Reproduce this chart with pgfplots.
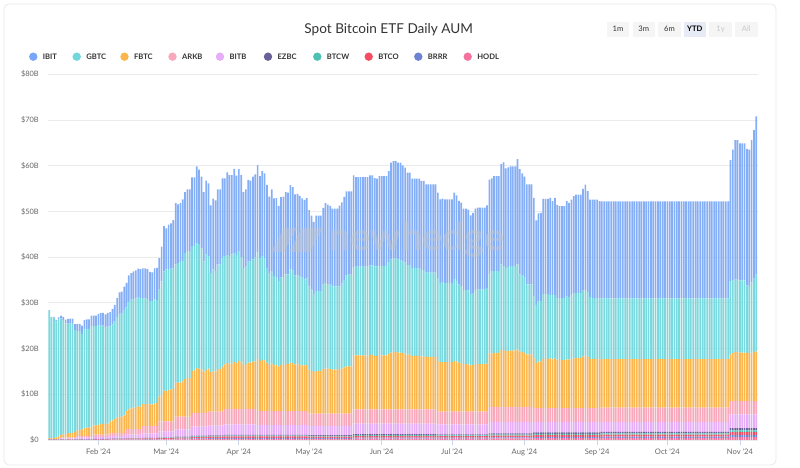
\documentclass[border=0pt]{standalone}
\usepackage{fontspec}
\setmainfont{Lato}
\usepackage{pgfplots}
\pgfplotsset{compat=1.18}
\usepackage{pgfplotstable}
\definecolor{cIBIT}{HTML}{84AEF5}
\definecolor{cGBTC}{HTML}{7AD9DE}
\definecolor{cFBTC}{HTML}{FBB64E}
\definecolor{cARKB}{HTML}{F8A8BA}
\definecolor{cBITB}{HTML}{E6AEF7}
\definecolor{cEZBC}{HTML}{6B6199}
\definecolor{cBTCW}{HTML}{4DC2B2}
\definecolor{cBTCO}{HTML}{F44D62}
\definecolor{cBRRR}{HTML}{6E82D4}
\definecolor{cHODL}{HTML}{F4739E}
\definecolor{dIBIT}{HTML}{78A6F8}
\definecolor{dGBTC}{HTML}{72D6DC}
\definecolor{gridc}{HTML}{EBEBEB}
\definecolor{tickc}{HTML}{CCD6EB}
\definecolor{labc}{HTML}{666666}
\definecolor{titc}{HTML}{333333}
\definecolor{cardc}{HTML}{E8E8E8}
\definecolor{btnc}{HTML}{F5F5F5}
\definecolor{btnsel}{HTML}{E6EBF5}
\definecolor{btndis}{HTML}{C8C8C8}
\definecolor{wmark}{HTML}{C2C5CB}

\pgfplotstableread{
d I G F A B E W O R H
10 0.1 27.9 0.2 0.05 0.1 .01 .01 .02 .01 .01
11 0.2 26.3 0.25 0.05 0.1 .01 .01 .02 .01 .01
12 0.2 26.3 0.25 0.05 0.1 .01 .01 .02 .01 .01
13 0.3 25.4 0.35 0.05 0.1 .01 .01 .02 .01 .01
14 0.4 25.7 0.5 0.05 0.1 .01 .01 .02 .01 .01
15 0.6 25.5 0.6 .2 .2 .02 .02 .04 .03 .02
16 0.7 25.0 0.7 .2 .2 .02 .02 .04 .03 .02
17 0.8 24.2 0.8 .2 .2 .02 .02 .04 .03 .02
18 1.0 24.0 0.95 .2 .2 .02 .02 .04 .03 .02
19 1.1 23.9 1.0 .2 .2 .02 .02 .04 .03 .02
20 1.1 23.9 1.0 .2 .2 .02 .02 .04 .03 .02
21 1.3 22.3 1.2 .2 .2 .02 .02 .04 .03 .02
22 1.6 21.7 1.2 .4 .3 .03 .03 .06 .04 .04
23 1.6 21.6 1.3 .4 .3 .03 .03 .06 .04 .04
24 1.8 20.9 1.4 .4 .3 .03 .03 .06 .04 .04
25 2.0 21.6 1.7 .4 .3 .03 .03 .06 .04 .04
26 2.1 21.6 1.8 .4 .3 .03 .03 .06 .04 .04
27 2.1 21.6 1.8 .4 .3 .03 .03 .06 .04 .04
28 2.3 22.1 1.9 .4 .3 .03 .03 .06 .04 .04
29 2.3 21.7 2.0 .55 .4 .04 .03 .08 .05 .05
30 2.3 21.7 2.0 .55 .4 .04 .03 .08 .05 .05
31 2.6 21.7 2.1 .55 .4 .04 .03 .08 .05 .05
32 2.8 21.5 2.3 .55 .4 .04 .03 .08 .05 .05
33 2.8 21.5 2.3 .55 .4 .04 .03 .08 .05 .05
34 2.9 21.1 2.3 .55 .4 .04 .03 .08 .05 .05
35 3.0 21.2 2.4 .55 .4 .04 .03 .08 .05 .05
36 3.1 20.8 2.5 .7 .55 .05 .04 .1 .07 .06
37 3.4 21.0 2.7 .7 .55 .05 .04 .1 .07 .06
38 3.7 21.3 3.0 .7 .55 .05 .04 .1 .07 .06
39 4.2 22.0 3.3 .7 .55 .05 .04 .1 .07 .06
40 4.7 22.5 3.5 .7 .55 .05 .04 .1 .07 .06
41 4.7 22.6 3.6 .7 .55 .05 .04 .1 .07 .06
42 5.1 23.1 3.8 .7 .55 .05 .04 .1 .07 .06
43 5.4 22.7 3.9 1.2 .8 .06 .05 .12 .08 .08
44 5.8 23.5 4.3 1.2 .8 .06 .05 .12 .08 .08
45 5.8 23.8 4.5 1.2 .8 .06 .05 .12 .08 .08
46 6.0 23.8 4.7 1.2 .8 .06 .05 .12 .08 .08
47 6.1 23.8 4.8 1.2 .8 .06 .05 .12 .08 .08
48 6.3 23.9 4.9 1.2 .8 .06 .05 .12 .08 .08
49 6.3 23.8 4.9 1.2 .8 .06 .05 .12 .08 .08
50 6.5 23.2 4.8 1.6 1 .07 .06 .14 .1 .1
51 6.6 23.1 4.8 1.6 1 .07 .06 .14 .1 .1
52 6.5 23.0 4.8 1.6 1 .07 .06 .14 .1 .1
53 6.4 22.6 4.7 1.6 1 .07 .06 .14 .1 .1
54 6.3 22.6 4.7 1.6 1 .07 .06 .14 .1 .1
55 6.8 22.8 4.9 1.6 1 .07 .06 .14 .1 .1
56 7.0 22.6 5.0 1.6 1 .07 .06 .14 .1 .1
57 6.9 23.4 5.4 2.2 1.3 .1 .08 .18 .12 .12
58 7.6 24.7 5.9 2.2 1.3 .1 .08 .18 .12 .12
59 9.9 26.1 6.7 2.2 1.3 .1 .08 .18 .12 .12
60 9.0 26.6 6.6 2.2 1.3 .1 .08 .18 .12 .12
61 9.7 26.5 6.8 2.2 1.3 .1 .08 .18 .12 .12
62 9.9 26.5 6.9 2.2 1.3 .1 .08 .18 .12 .12
63 10.5 26.4 7.1 2.2 1.3 .1 .08 .18 .12 .12
64 13.4 25.9 7.4 2.8 1.6 .12 .1 .22 .14 .15
65 12.8 26.2 7.4 2.8 1.6 .12 .1 .22 .14 .15
66 12.9 26.4 7.4 2.8 1.6 .12 .1 .22 .14 .15
67 13.5 26.3 7.7 2.8 1.6 .12 .1 .22 .14 .15
68 13.3 27.6 8.2 2.8 1.6 .12 .1 .22 .14 .15
69 13.5 27.8 8.4 2.8 1.6 .12 .1 .22 .14 .15
70 13.5 27.8 8.4 2.8 1.6 .12 .1 .22 .14 .15
71 15.0 27.3 9.2 3 2 .15 .12 .28 .18 .2
72 15.0 27.2 9.3 3 2 .15 .12 .28 .18 .2
73 16.7 27.4 9.8 3 2 .15 .12 .28 .18 .2
74 16.3 27.2 9.7 3 2 .15 .12 .28 .18 .2
75 15.6 26.6 9.5 3 2 .15 .12 .28 .18 .2
76 15.2 24.1 9.0 3 2 .15 .12 .28 .18 .2
77 16.1 25.3 9.4 3 2 .15 .12 .28 .18 .2
78 15.9 24.6 9.4 3.1 2.1 .17 .13 .3 .2 .22
79 14.8 21.7 8.6 3.1 2.1 .17 .13 .3 .2 .22
80 15.5 22.3 8.8 3.1 2.1 .17 .13 .3 .2 .22
81 15.5 21.9 8.8 3.1 2.1 .17 .13 .3 .2 .22
82 16.4 22.9 9.3 3.1 2.1 .17 .13 .3 .2 .22
83 16.4 22.9 9.3 3.1 2.1 .17 .13 .3 .2 .22
84 17.4 23.9 9.7 3.1 2.1 .17 .13 .3 .2 .22
85 17.0 23.7 9.7 3.4 2.3 .2 .15 .32 .22 .24
86 18.1 23.6 10.0 3.4 2.3 .2 .15 .32 .22 .24
87 17.7 23.5 9.9 3.4 2.3 .2 .15 .32 .22 .24
88 17.3 23.9 9.9 3.4 2.3 .2 .15 .32 .22 .24
89 18.4 23.9 10.2 3.4 2.3 .2 .15 .32 .22 .24
90 17.4 23.6 10.0 3.4 2.3 .2 .15 .32 .22 .24
91 17.9 24.0 10.5 3.4 2.3 .2 .15 .32 .22 .24
92 17.9 22.9 10.3 3.4 2.3 .2 .15 .32 .22 .24
93 16.6 21.2 9.6 3.4 2.3 .2 .15 .32 .22 .24
94 16.8 21.4 9.8 3.4 2.3 .2 .15 .32 .22 .24
95 17.9 22.1 10.1 3.4 2.3 .2 .15 .32 .22 .24
96 17.7 22.1 10.1 3.4 2.3 .2 .15 .32 .22 .24
97 18.1 22.4 10.3 3.4 2.3 .2 .15 .32 .22 .24
98 18.1 22.9 10.3 3.4 2.3 .2 .15 .32 .22 .24
99 19.0 23.4 11.4 3 2.2 .2 .15 .32 .22 .24
100 17.9 22.5 11.0 3 2.2 .2 .15 .32 .22 .24
101 18.6 22.7 11.2 3 2.2 .2 .15 .32 .22 .24
102 18.5 22.4 11.1 3 2.2 .2 .15 .32 .22 .24
103 18.2 20.7 10.6 3 2.2 .2 .15 .32 .22 .24
104 16.7 20.1 10.1 3 2.2 .2 .15 .32 .22 .24
105 17.9 20.2 10.4 3 2.2 .2 .15 .32 .22 .24
106 17.0 19.5 10.0 3 2.2 .2 .15 .32 .22 .24
107 17.3 19.2 10.1 3 2.2 .2 .15 .32 .22 .24
108 16.5 18.7 9.7 3 2.2 .2 .15 .32 .22 .24
109 17.6 19.1 10.1 3 2.2 .2 .15 .32 .22 .24
110 17.6 19.2 10.1 3 2.2 .2 .15 .32 .22 .24
111 18.0 19.6 10.3 3 2.2 .2 .15 .32 .22 .24
112 17.9 19.6 10.3 3 2.2 .2 .15 .32 .22 .24
113 18.4 20.4 10.6 3 2.2 .2 .15 .32 .22 .24
114 18.3 20.2 10.5 3 2.2 .2 .15 .32 .22 .24
115 17.7 19.5 10.2 3 2.2 .2 .15 .32 .22 .24
116 17.8 19.5 10.2 3 2.2 .2 .15 .32 .22 .24
117 17.6 19.4 10.1 3 2.2 .2 .15 .32 .22 .24
118 17.3 19.2 10.0 3 2.2 .2 .15 .32 .22 .24
119 17.4 18.8 10.0 3 2.2 .2 .15 .32 .22 .24
120 17.6 18.9 10.1 3 2.2 .2 .15 .32 .22 .24
121 16.7 18.2 9.6 2.7 2 .2 .15 .3 .2 .24
122 16.2 17.8 9.3 2.7 2 .2 .15 .3 .2 .24
123 15.9 16.9 9.1 2.7 2 .2 .15 .3 .2 .24
124 16.5 17.5 9.3 2.7 2 .2 .15 .3 .2 .24
125 16.5 17.5 9.3 2.7 2 .2 .15 .3 .2 .24
126 16.5 17.5 9.3 2.7 2 .2 .15 .3 .2 .24
127 16.8 18.5 9.7 2.7 2 .2 .15 .3 .2 .24
128 17.5 18.7 9.8 2.7 2 .2 .15 .3 .2 .24
129 17.5 18.4 9.8 2.7 2 .2 .15 .3 .2 .24
130 17.2 18.5 9.7 2.7 2 .2 .15 .3 .2 .24
131 17.0 18.2 9.6 2.7 2 .2 .15 .3 .2 .24
132 17.0 18.2 9.6 2.7 2 .2 .15 .3 .2 .24
133 17.0 18.2 9.6 2.7 2 .2 .15 .3 .2 .24
134 17.7 18.1 9.7 2.7 2 .2 .15 .3 .2 .24
135 17.8 18.5 9.9 2.7 2 .2 .15 .3 .2 .24
136 18.2 19.1 10.1 2.7 2 .2 .15 .3 .2 .24
137 18.4 19.9 10.3 2.7 2 .2 .15 .3 .2 .24
138 18.2 20.1 10.3 2.7 2 .2 .15 .3 .2 .24
139 18.2 20.1 10.3 2.7 2 .2 .15 .3 .2 .24
140 20.1 19.2 11.9 3.1 2.3 .24 .18 .34 .24 .3
141 19.6 19.4 11.8 3.1 2.3 .24 .18 .34 .24 .3
142 19.6 19.4 11.8 3.1 2.3 .24 .18 .34 .24 .3
143 19.6 19.4 11.8 3.1 2.3 .24 .18 .34 .24 .3
144 19.6 19.4 11.8 3.1 2.3 .24 .18 .34 .24 .3
145 19.6 19.4 11.8 3.1 2.3 .24 .18 .34 .24 .3
146 19.6 19.4 11.8 3.1 2.3 .24 .18 .34 .24 .3
147 19.7 19.6 11.9 3.1 2.3 .24 .18 .34 .24 .3
148 19.7 19.6 11.9 3.1 2.3 .24 .18 .34 .24 .3
149 19.3 19.6 11.7 3.1 2.3 .24 .18 .34 .24 .3
150 19.2 19.6 11.7 3.1 2.3 .24 .18 .34 .24 .3
151 19.6 19.6 11.8 3.1 2.3 .24 .18 .34 .24 .3
152 19.6 19.6 11.8 3.1 2.3 .24 .18 .34 .24 .3
153 19.6 19.6 11.8 3.1 2.3 .24 .18 .34 .24 .3
154 19.6 19.6 11.8 3.1 2.3 .24 .18 .34 .24 .3
155 20.0 20.0 12.1 3.1 2.3 .24 .18 .34 .24 .3
156 21.2 20.4 12.4 3.1 2.3 .24 .18 .34 .24 .3
157 21.3 20.5 12.5 3.1 2.3 .24 .18 .34 .24 .3
158 21.3 20.5 12.5 3.1 2.3 .24 .18 .34 .24 .3
159 21.2 20.4 12.4 3.1 2.3 .24 .18 .34 .24 .3
160 21.3 20.3 12.4 3.1 2.3 .24 .18 .34 .24 .3
161 21.1 20.0 12.3 3.1 2.3 .24 .18 .34 .24 .3
162 20.8 19.9 12.2 3.1 2.3 .24 .18 .34 .24 .3
163 20.2 19.6 12.0 3.1 2.3 .24 .18 .34 .24 .3
164 20.2 19.6 12.0 3.1 2.3 .24 .18 .34 .24 .3
165 19.6 19.2 11.7 3.1 2.3 .24 .18 .34 .24 .3
166 19.6 19.2 11.7 3.1 2.3 .24 .18 .34 .24 .3
167 19.6 19.2 11.7 3.1 2.3 .24 .18 .34 .24 .3
168 19.6 19.2 11.7 3.1 2.3 .24 .18 .34 .24 .3
169 19.5 18.9 11.6 3.1 2.3 .24 .18 .34 .24 .3
170 19.5 18.9 11.6 3.1 2.3 .24 .18 .34 .24 .3
171 19.3 18.4 11.5 3.1 2.3 .24 .18 .34 .24 .3
172 19.3 18.4 11.5 3.1 2.3 .24 .18 .34 .24 .3
173 19.3 18.4 11.5 3.1 2.3 .24 .18 .34 .24 .3
174 19.3 18.4 11.5 3.1 2.3 .24 .18 .34 .24 .3
175 19.3 18.4 11.5 3.1 2.3 .24 .18 .34 .24 .3
176 18.7 18.1 11.1 2.8 2.2 .22 .17 .32 .22 .28
177 18.3 17.3 10.8 2.8 2.2 .22 .17 .32 .22 .28
178 18.4 17.4 10.8 2.8 2.2 .22 .17 .32 .22 .28
179 18.3 17.3 10.8 2.8 2.2 .22 .17 .32 .22 .28
180 18.3 17.3 10.8 2.8 2.2 .22 .17 .32 .22 .28
181 18.3 17.3 10.8 2.8 2.2 .22 .17 .32 .22 .28
182 18.3 17.3 10.8 2.8 2.2 .22 .17 .32 .22 .28
183 18.9 17.9 11.1 2.8 2.2 .22 .17 .32 .22 .28
184 18.7 17.6 11.0 2.8 2.2 .22 .17 .32 .22 .28
185 18.3 17.1 10.7 2.8 2.2 .22 .17 .32 .22 .28
186 18.2 16.9 10.6 2.8 2.2 .22 .17 .32 .22 .28
187 17.8 16.2 10.4 2.8 2.2 .22 .17 .32 .22 .28
188 17.8 16.2 10.4 2.8 2.2 .22 .17 .32 .22 .28
189 17.7 16.2 10.3 2.8 2.2 .22 .17 .32 .22 .28
190 17.3 15.5 10.1 2.8 2.2 .22 .17 .32 .22 .28
191 17.5 15.8 10.2 2.8 2.2 .22 .17 .32 .22 .28
192 17.8 16.2 10.4 2.8 2.2 .22 .17 .32 .22 .28
193 17.9 16.3 10.4 2.8 2.2 .22 .17 .32 .22 .28
194 17.9 16.3 10.4 2.8 2.2 .22 .17 .32 .22 .28
195 17.9 16.3 10.4 2.8 2.2 .22 .17 .32 .22 .28
196 17.9 16.3 10.4 2.8 2.2 .22 .17 .32 .22 .28
197 18.1 16.5 10.5 2.8 2.2 .22 .17 .32 .22 .28
198 20.7 17.3 11.7 3.3 2.5 .26 .2 .38 .26 .34
199 20.3 18.0 11.7 3.3 2.5 .26 .2 .38 .26 .34
200 20.8 17.9 11.8 3.3 2.5 .26 .2 .38 .26 .34
201 20.8 17.9 11.8 3.3 2.5 .26 .2 .38 .26 .34
202 20.8 17.9 11.8 3.3 2.5 .26 .2 .38 .26 .34
203 21.9 18.8 12.4 3.3 2.5 .26 .2 .38 .26 .34
204 22.7 18.4 12.4 3.3 2.5 .26 .2 .38 .26 .34
205 21.8 18.2 12.2 3.3 2.5 .26 .2 .38 .26 .34
206 21.8 18.4 12.2 3.3 2.5 .26 .2 .38 .26 .34
207 21.8 18.5 12.3 3.3 2.5 .26 .2 .38 .26 .34
208 21.8 18.5 12.3 3.3 2.5 .26 .2 .38 .26 .34
209 21.8 18.5 12.3 3.3 2.5 .26 .2 .38 .26 .34
210 22.9 18.7 12.6 3.3 2.5 .26 .2 .38 .26 .34
211 23.0 16.9 12.1 3.3 2.5 .26 .2 .38 .26 .34
212 22.3 16.8 12.0 3.3 2.5 .26 .2 .38 .26 .34
213 22.1 16.5 11.8 3.3 2.5 .26 .2 .38 .26 .34
214 21.9 15.3 11.5 3.3 2.5 .26 .2 .38 .26 .34
215 21.9 15.3 11.5 3.3 2.5 .26 .2 .38 .26 .34
216 21.9 15.3 11.5 3.3 2.5 .26 .2 .38 .26 .34
217 21.6 13.5 10.9 3 2.3 .3 .24 .42 .3 .4
218 18.5 12.7 9.9 3 2.3 .3 .24 .42 .3 .4
219 19.3 13.1 10.2 3 2.3 .3 .24 .42 .3 .4
220 19.3 13.2 10.2 3 2.3 .3 .24 .42 .3 .4
221 20.8 14.2 10.8 3 2.3 .3 .24 .42 .3 .4
222 20.8 14.2 10.8 3 2.3 .3 .24 .42 .3 .4
223 20.8 14.2 10.8 3 2.3 .3 .24 .42 .3 .4
224 21.2 13.9 10.9 3 2.3 .3 .24 .42 .3 .4
225 20.5 14.1 10.7 3 2.3 .3 .24 .42 .3 .4
226 21.2 13.9 10.9 3 2.3 .3 .24 .42 .3 .4
227 20.4 13.5 10.6 3 2.3 .3 .24 .42 .3 .4
228 20.1 13.6 10.5 3 2.3 .3 .24 .42 .3 .4
229 20.1 13.6 10.5 3 2.3 .3 .24 .42 .3 .4
230 20.1 13.6 10.5 3 2.3 .3 .24 .42 .3 .4
231 20.9 13.7 10.7 3 2.3 .3 .24 .42 .3 .4
232 20.6 13.7 10.6 3 2.3 .3 .24 .42 .3 .4
233 21.0 13.8 10.8 3 2.3 .3 .24 .42 .3 .4
234 21.2 14.3 10.9 3 2.3 .3 .24 .42 .3 .4
235 21.5 14.2 11.0 3 2.3 .3 .24 .42 .3 .4
236 21.5 14.2 11.0 3 2.3 .3 .24 .42 .3 .4
237 21.5 14.2 11.0 3 2.3 .3 .24 .42 .3 .4
238 22.3 14.4 11.3 3 2.3 .3 .24 .42 .3 .4
239 23.0 14.4 11.5 3 2.3 .3 .24 .42 .3 .4
240 22.1 14.2 11.2 3 2.3 .3 .24 .42 .3 .4
241 21.3 13.5 10.8 3 2.3 .3 .24 .42 .3 .4
242 21.5 13.3 10.8 3 2.3 .3 .24 .42 .3 .4
243 21.5 13.3 10.8 3 2.3 .3 .24 .42 .3 .4
244 21.5 13.3 10.8 3 2.3 .3 .24 .42 .3 .4
245 21.3 13.3 10.7 3 2.3 .3 .24 .42 .3 .4
246 21.2 13.3 10.6 3.1 2.2 .32 .26 .44 .32 .44
247 21.2 13.3 10.6 3.1 2.2 .32 .26 .44 .32 .44
248 21.2 13.3 10.6 3.1 2.2 .32 .26 .44 .32 .44
249 21.2 13.3 10.6 3.1 2.2 .32 .26 .44 .32 .44
250 21.2 13.3 10.6 3.1 2.2 .32 .26 .44 .32 .44
251 21.2 13.3 10.6 3.1 2.2 .32 .26 .44 .32 .44
252 21.2 13.3 10.6 3.1 2.2 .32 .26 .44 .32 .44
253 21.2 13.3 10.6 3.1 2.2 .32 .26 .44 .32 .44
254 21.2 13.3 10.6 3.1 2.2 .32 .26 .44 .32 .44
255 21.2 13.3 10.6 3.1 2.2 .32 .26 .44 .32 .44
256 21.2 13.3 10.6 3.1 2.2 .32 .26 .44 .32 .44
257 21.2 13.3 10.6 3.1 2.2 .32 .26 .44 .32 .44
258 21.2 13.3 10.6 3.1 2.2 .32 .26 .44 .32 .44
259 21.2 13.3 10.6 3.1 2.2 .32 .26 .44 .32 .44
260 21.2 13.3 10.6 3.1 2.2 .32 .26 .44 .32 .44
261 21.2 13.3 10.6 3.1 2.2 .32 .26 .44 .32 .44
262 21.2 13.3 10.6 3.1 2.2 .32 .26 .44 .32 .44
263 21.2 13.3 10.6 3.1 2.2 .32 .26 .44 .32 .44
264 21.2 13.3 10.6 3.1 2.2 .32 .26 .44 .32 .44
265 21.2 13.3 10.6 3.1 2.2 .32 .26 .44 .32 .44
266 21.2 13.3 10.6 3.1 2.2 .32 .26 .44 .32 .44
267 21.2 13.3 10.6 3.1 2.2 .32 .26 .44 .32 .44
268 21.2 13.3 10.6 3.1 2.2 .32 .26 .44 .32 .44
269 21.2 13.3 10.6 3.1 2.2 .32 .26 .44 .32 .44
270 21.2 13.3 10.6 3.1 2.2 .32 .26 .44 .32 .44
271 21.2 13.3 10.6 3.1 2.2 .32 .26 .44 .32 .44
272 21.2 13.3 10.6 3.1 2.2 .32 .26 .44 .32 .44
273 21.2 13.3 10.6 3.1 2.2 .32 .26 .44 .32 .44
274 21.2 13.3 10.6 3.1 2.2 .32 .26 .44 .32 .44
275 21.2 13.3 10.6 3.1 2.2 .32 .26 .44 .32 .44
276 21.2 13.3 10.6 3.1 2.2 .32 .26 .44 .32 .44
277 21.2 13.3 10.6 3.1 2.2 .32 .26 .44 .32 .44
278 21.2 13.3 10.6 3.1 2.2 .32 .26 .44 .32 .44
279 21.2 13.3 10.6 3.1 2.2 .32 .26 .44 .32 .44
280 21.2 13.3 10.6 3.1 2.2 .32 .26 .44 .32 .44
281 21.2 13.3 10.6 3.1 2.2 .32 .26 .44 .32 .44
282 21.2 13.3 10.6 3.1 2.2 .32 .26 .44 .32 .44
283 21.2 13.3 10.6 3.1 2.2 .32 .26 .44 .32 .44
284 21.2 13.3 10.6 3.1 2.2 .32 .26 .44 .32 .44
285 21.2 13.3 10.6 3.1 2.2 .32 .26 .44 .32 .44
286 21.2 13.3 10.6 3.1 2.2 .32 .26 .44 .32 .44
287 21.2 13.3 10.6 3.1 2.2 .32 .26 .44 .32 .44
288 21.2 13.3 10.6 3.1 2.2 .32 .26 .44 .32 .44
289 21.2 13.3 10.6 3.1 2.2 .32 .26 .44 .32 .44
290 21.2 13.3 10.6 3.1 2.2 .32 .26 .44 .32 .44
291 21.2 13.3 10.6 3.1 2.2 .32 .26 .44 .32 .44
292 21.2 13.3 10.6 3.1 2.2 .32 .26 .44 .32 .44
293 21.2 13.3 10.6 3.1 2.2 .32 .26 .44 .32 .44
294 21.2 13.3 10.6 3.1 2.2 .32 .26 .44 .32 .44
295 21.2 13.3 10.6 3.1 2.2 .32 .26 .44 .32 .44
296 21.2 13.3 10.6 3.1 2.2 .32 .26 .44 .32 .44
297 21.2 13.3 10.6 3.1 2.2 .32 .26 .44 .32 .44
298 21.2 13.3 10.6 3.1 2.2 .32 .26 .44 .32 .44
299 21.2 13.3 10.6 3.1 2.2 .32 .26 .44 .32 .44
300 21.2 13.3 10.6 3.1 2.2 .32 .26 .44 .32 .44
301 26.5 16.0 10.2 2.9 3 .48 .38 .62 .48 .64
302 28.5 16.0 10.5 2.9 3 .48 .38 .62 .48 .64
303 30.5 15.9 10.7 2.9 3 .48 .38 .62 .48 .64
304 30.5 15.9 10.7 2.9 3 .48 .38 .62 .48 .64
305 30.0 15.8 10.6 2.9 3 .48 .38 .62 .48 .64
306 30.0 15.8 10.6 2.9 3 .48 .38 .62 .48 .64
307 30.0 15.8 10.6 2.9 3 .48 .38 .62 .48 .64
308 29.9 14.8 10.5 2.9 3 .48 .38 .62 .48 .64
309 29.8 14.7 10.5 2.9 3 .48 .38 .62 .48 .64
310 31.1 15.4 10.6 2.9 3 .48 .38 .62 .48 .64
311 32.5 16.0 10.8 2.9 3 .48 .38 .62 .48 .64
312 34.6 16.8 10.9 2.9 3 .48 .38 .62 .48 .64
}\etf

\newcommand{\lgd}[3]{%
  \fill[#2] (#1,411.3) circle (4.2);
  \node[anchor=west, inner sep=0, text=titc, font=\fontsize{7.6bp}{9bp}\selectfont\bfseries] at (#1+9.4,411.3) {#3};}

\begin{document}
\begin{tikzpicture}[x=1bp,y=1bp]
\begin{axis}[
  name=ax,
  scale only axis, width=709.4bp, height=365.7bp,
  xmin=9.6, xmax=312.6, ymin=0, ymax=80,
  ybar stacked, bar width=0.72,
  axis lines*=left, axis line style={draw=none},
  ymajorgrids, grid style={gridc, line width=0.9bp},
  ytick={0,10,20,30,40,50,60,70,80},
  yticklabels={\$0,\$10B,\$20B,\$30B,\$40B,\$50B,\$60B,\$70B,\$80B},
  yticklabel style={font=\fontsize{7.4bp}{9bp}\selectfont, text=labc, xshift=-1bp},
  ytick style={draw=none},
  xtick={31,60,91,121,152,182,213,244,274,305},
  xticklabels={Feb \textquotesingle24,Mar \textquotesingle24,Apr \textquotesingle24,May \textquotesingle24,Jun \textquotesingle24,Jul \textquotesingle24,Aug \textquotesingle24,Sep \textquotesingle24,Oct \textquotesingle24,Nov \textquotesingle24},
  xticklabel style={font=\fontsize{7.6bp}{9bp}\selectfont, text=labc},
  tick align=outside, major tick length=5bp,
  xtick style={draw=tickc, line width=0.8bp},
  every axis plot/.append style={draw=none},
]
\addplot[fill=cHODL] table[x=d, y=H] {\etf};
\addplot[fill=cBRRR] table[x=d, y=R] {\etf};
\addplot[fill=cBTCO] table[x=d, y=O] {\etf};
\addplot[fill=cBTCW] table[x=d, y=W] {\etf};
\addplot[fill=cEZBC] table[x=d, y=E] {\etf};
\addplot[fill=cBITB] table[x=d, y=B] {\etf};
\addplot[fill=cARKB] table[x=d, y=A] {\etf};
\addplot[fill=cFBTC] table[x=d, y=F] {\etf};
\addplot[fill=cGBTC] table[x=d, y=G] {\etf};
\addplot[fill=cIBIT] table[x=d, y=I] {\etf};
\coordinate (O) at (rel axis cs:0,0);
\end{axis}
\begin{scope}[shift={(O)}, shift={(-48.3,-28)}]
% watermark
\fill[wmark, opacity=0.5] (271,216) -- (284,240) -- (297,240) -- (284,216) -- cycle;
\fill[wmark, opacity=0.5] (289,216) -- (302,240) -- (323,240) -- (310,216) -- cycle;
\node[anchor=west, inner sep=0, text=wmark, text opacity=0.5, font=\fontsize{38bp}{40bp}\selectfont\bfseries] at (329,228) {newhedge};
\draw[cardc, line width=0.8bp, rounded corners=5bp] (4,3) rectangle (776,464);
\node[text=titc, font=\fontsize{13.6bp}{16bp}\selectfont] at (388.7,438) {Spot Bitcoin ETF Daily AUM};
% range buttons
\fill[btnc] (607,431.3) rectangle (629,446.3);
\fill[btnc] (632.5,431.3) rectangle (655,446.3);
\fill[btnc] (658,431.3) rectangle (681,446.3);
\fill[btnsel] (683.5,431.3) rectangle (706,446.3);
\fill[btnc] (709,431.3) rectangle (732,446.3);
\fill[btnc] (735,431.3) rectangle (757.7,446.3);
\begin{scope}[every node/.style={inner sep=0, font=\fontsize{7.6bp}{9bp}\selectfont}]
\node[text=titc] at (618,438.8) {1m};
\node[text=titc] at (643.7,438.8) {3m};
\node[text=titc] at (669.5,438.8) {6m};
\node[text=black, font=\fontsize{7.6bp}{9bp}\selectfont\bfseries] at (694.7,438.8) {YTD};
\node[text=btndis] at (720.5,438.8) {1y};
\node[text=btndis] at (746.3,438.8) {All};
\end{scope}
% legend
\lgd{33.3}{dIBIT}{IBIT}
\lgd{76.7}{dGBTC}{GBTC}
\lgd{124.5}{cFBTC}{FBTC}
\lgd{172.5}{cARKB}{ARKB}
\lgd{220}{cBITB}{BITB}
\lgd{268}{cEZBC}{EZBC}
\lgd{317.3}{cBTCW}{BTCW}
\lgd{368.7}{cBTCO}{BTCO}
\lgd{418.3}{cBRRR}{BRRR}
\lgd{467.7}{cHODL}{HODL}
\pgfresetboundingbox
\useasboundingbox (0,0) rectangle (800,468);
\end{scope}
\end{tikzpicture}
\end{document}
